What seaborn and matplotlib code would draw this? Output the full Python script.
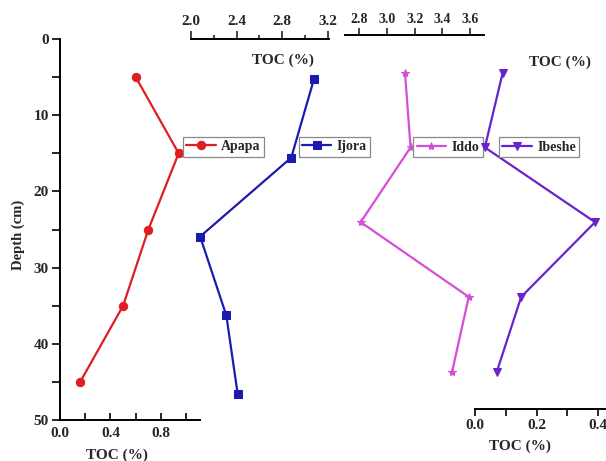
import matplotlib
matplotlib.use("Agg")
import matplotlib.pyplot as plt
from matplotlib.ticker import MultipleLocator, FixedLocator
import seaborn as sns
import pandas as pd

sns.set_style("white")
plt.rcParams["font.family"] = ["Liberation Serif", "DejaVu Serif"]
plt.rcParams["font.weight"] = "bold"

# Sediment core TOC profiles
depth = [5, 15, 25, 35, 45]
toc_apapa = [0.60, 0.94, 0.70, 0.50, 0.16]
toc_ijora = [3.08, 2.88, 2.08, 2.31, 2.41]
toc_iddo = [3.13, 3.17, 2.81, 3.59, 3.47]
toc_ibeshe = [0.090, 0.032, 0.39, 0.15, 0.071]

sites = ["Apapa", "Ijora", "Iddo", "Ibeshe"]
colors = {"Apapa": "#de1e22", "Ijora": "#1b1bb0", "Iddo": "#d54ed8", "Ibeshe": "#6a22cc"}
markers = {"Apapa": "o", "Ijora": "s", "Iddo": "*", "Ibeshe": "v"}
msizes = {"Apapa": 6, "Ijora": 5.5, "Iddo": 6, "Ibeshe": 6}

W, H = 606, 461
fig = plt.figure(figsize=(W / 100, H / 100), dpi=100)


def rect(x0, y0, x1, y1):
    return [x0 / W, 1 - y1 / H, (x1 - x0) / W, (y1 - y0) / H]


def fpos(x, y):
    return (x / W, 1 - y / H)


ax1 = fig.add_axes(rect(60, 39, 200, 420))
ax2 = fig.add_axes(rect(191, 39.25, 329, 433.8))
ax3 = fig.add_axes(rect(345, 35.3, 484, 409))
ax4 = fig.add_axes(rect(475, 35.3, 610.5, 409))

data = {"Apapa": toc_apapa, "Ijora": toc_ijora, "Iddo": toc_iddo, "Ibeshe": toc_ibeshe}
axes = {"Apapa": ax1, "Ijora": ax2, "Iddo": ax3, "Ibeshe": ax4}

for site in sites:
    ax = axes[site]
    ax.set_facecolor("none")
    df = pd.DataFrame({"toc": data[site], "depth": depth})
    sns.lineplot(data=df, x="toc", y="depth", sort=False, estimator=None,
                 color=colors[site], marker=markers[site], markersize=msizes[site],
                 markeredgecolor=colors[site], linewidth=1.6, label=site, ax=ax)
    ax.set_ylim(50, 0)
    ax.set_xlabel("")
    ax.set_ylabel("")
    for s in ax.spines.values():
        s.set_visible(False)
        s.set_linewidth(1.4)
        s.set_color("black")
    ax.get_legend().remove()

tick_font = dict(labelsize=11)

# Apapa: depth axis on the left, TOC axis at the bottom
ax1.set_xlim(0, 1.109)
ax1.spines["left"].set_visible(True)
ax1.spines["bottom"].set_visible(True)
ax1.xaxis.set_major_locator(FixedLocator([0.0, 0.4, 0.8]))
ax1.xaxis.set_minor_locator(FixedLocator([0.2, 0.6, 1.0]))
ax1.yaxis.set_major_locator(MultipleLocator(10))
ax1.yaxis.set_minor_locator(MultipleLocator(5))
ax1.tick_params(axis="x", which="both", direction="in", length=5, width=1.4,
                bottom=True, pad=5, **tick_font)
ax1.tick_params(axis="y", which="both", direction="out", length=6, width=1.4,
                left=True, pad=2, **tick_font)
ax1.set_xticklabels(["0.0", "0.4", "0.8"], fontweight="bold")
ax1.set_yticks([0, 10, 20, 30, 40, 50])
ax1.set_yticklabels(["0", "10", "20", "30", "40", "50"], fontweight="bold")

# Ijora: TOC axis on top
ax2.set_xlim(2.0, 3.211)
ax2.spines["top"].set_visible(True)
ax2.xaxis.tick_top()
ax2.xaxis.set_major_locator(FixedLocator([2.0, 2.4, 2.8, 3.2]))
ax2.xaxis.set_minor_locator(FixedLocator([2.2, 2.6, 3.0]))
ax2.tick_params(axis="x", which="major", direction="out", length=6, width=1.2,
                top=True, bottom=False, pad=2, **tick_font)
ax2.tick_params(axis="x", which="minor", direction="out", length=3, width=1.2,
                top=True, bottom=False)
ax2.set_xticklabels(["2.0", "2.4", "2.8", "3.2"], fontweight="bold")
ax2.set_yticks([])

# Iddo: TOC axis on top
ax3.set_xlim(2.697, 3.70)
ax3.spines["top"].set_visible(True)
ax3.xaxis.tick_top()
ax3.xaxis.set_major_locator(FixedLocator([2.8, 3.0, 3.2, 3.4, 3.6]))
ax3.tick_params(axis="x", which="major", direction="out", length=5, width=1.2,
                top=True, bottom=False, pad=2, labelsize=10)
ax3.set_xticklabels(["2.8", "3.0", "3.2", "3.4", "3.6"], fontweight="bold")
ax3.set_yticks([])

# Ibeshe: TOC axis at the bottom
ax4.set_xlim(0, 0.44)
ax4.spines["bottom"].set_visible(True)
ax4.xaxis.set_major_locator(FixedLocator([0.0, 0.2, 0.4]))
ax4.xaxis.set_minor_locator(FixedLocator([0.1, 0.3]))
ax4.tick_params(axis="x", which="both", direction="out", length=5, width=1.4,
                bottom=True, pad=2, **tick_font)
ax4.set_xticklabels(["0.0", "0.2", "0.4"], fontweight="bold")
ax4.set_yticks([])

# Axis titles
lab = dict(fontsize=11, fontweight="bold", ha="center", va="center")
fig.text(*fpos(117, 455), "TOC (%)", **lab)
fig.text(*fpos(283, 60), "TOC (%)", **lab)
fig.text(*fpos(560, 62), "TOC (%)", **lab)
fig.text(*fpos(520, 446), "TOC (%)", **lab)
fig.text(*fpos(18, 235), "Depth (cm)", rotation=90, fontsize=10.5,
         fontweight="bold", ha="center", va="center")

# Legends, one per profile
leg_pos = {"Apapa": (183, 136.7), "Ijora": (298.7, 136.7),
           "Iddo": (413.3, 137.3), "Ibeshe": (499, 137.3)}
for site in sites:
    ax = axes[site]
    h, l = ax.get_legend_handles_labels()
    leg = ax.legend(h, l, loc="upper left", bbox_to_anchor=fpos(*leg_pos[site]),
                    bbox_transform=fig.transFigure, borderaxespad=0, borderpad=0.25,
                    handlelength=2.1, handletextpad=0.4, fancybox=False,
                    framealpha=1, edgecolor="#888888",
                    prop={"size": 10, "weight": "bold"})
    leg.get_frame().set_linewidth(0.9)

fig.savefig("out.png", dpi=100)
